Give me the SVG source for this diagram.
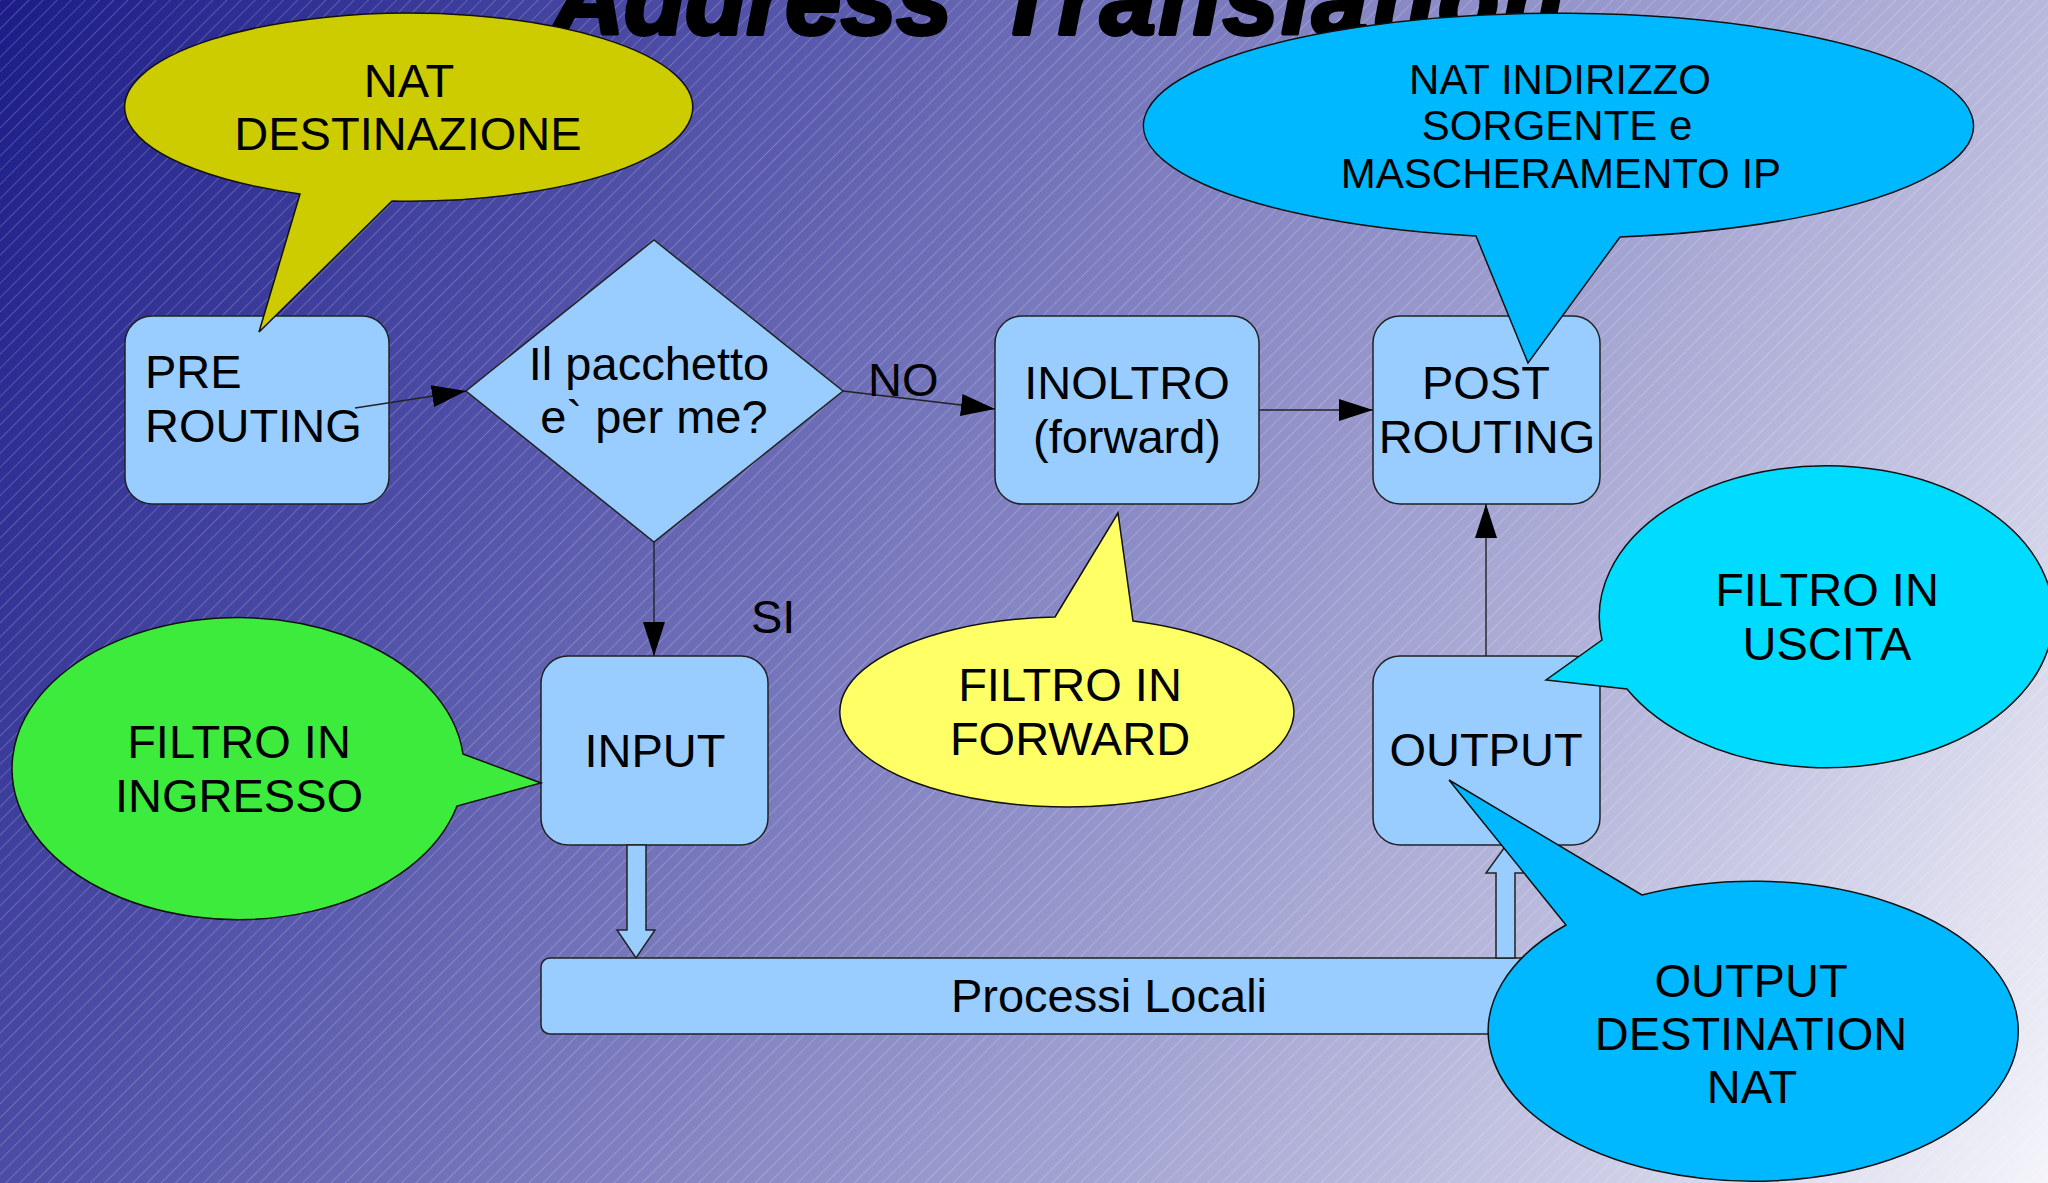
<svg xmlns="http://www.w3.org/2000/svg" width="2048" height="1183" viewBox="0 0 2048 1183">
  <defs>
    <linearGradient id="bgGrad" gradientUnits="userSpaceOnUse" x1="0" y1="0" x2="2048" y2="1183">
      <stop offset="0" stop-color="#1c1c88"/>
      <stop offset="0.25" stop-color="#4c4ca6"/>
      <stop offset="0.5" stop-color="#8686c4"/>
      <stop offset="0.75" stop-color="#b8b8dc"/>
      <stop offset="1" stop-color="#f4f4fa"/>
    </linearGradient>
    <pattern id="hatch" width="10" height="10" patternUnits="userSpaceOnUse" patternTransform="rotate(45)">
      <line x1="0.5" y1="0" x2="0.5" y2="10" stroke="#ffffff" stroke-opacity="0.2" stroke-width="1"/>
    </pattern>
    <marker id="arrow" markerUnits="userSpaceOnUse" markerWidth="34" markerHeight="22" refX="34" refY="11" orient="auto">
      <path d="M0,0 L34,11 L0,22 Z" fill="#000"/>
    </marker>
    <style>
      .box { fill: #99ccff; stroke: #222; stroke-width: 1.5; }
      .link { fill: none; stroke: #222; stroke-width: 1.4; marker-end: url(#arrow); }
      .block { fill: #99ccff; stroke: #222; stroke-width: 1.5; }
      .bubble { stroke: #111; stroke-width: 1.5; }
      text { font-family: "Liberation Sans", Arial, sans-serif; font-size: 47px; fill: #000; }
      .mid { text-anchor: middle; }
      .small { font-size: 42px; }
      .title { font-size: 100px; font-weight: bold; font-style: italic; stroke: #000; stroke-width: 4; stroke-linejoin: round; }
    </style>
  </defs>

  <!-- background -->
  <rect x="0" y="0" width="2048" height="1183" fill="url(#bgGrad)"/>
  <rect x="0" y="0" width="2048" height="1183" fill="url(#hatch)"/>

  <!-- title, running off the top edge -->
  <text class="title" y="34"><tspan x="552">Address</tspan><tspan x="996" letter-spacing="3">Translation</tspan></text>

  <!-- process nodes -->
  <g id="prerouting">
    <rect class="box" x="125" y="316" width="264" height="188" rx="27"/>
    <text x="145" y="388">PRE</text>
    <text x="145" y="442">ROUTING</text>
  </g>
  <g id="decision">
    <polygon class="box" points="654,240 843,391 654,542 466,391"/>
    <text x="649" y="380" class="mid">Il pacchetto</text>
    <text x="654" y="433" class="mid">e` per me?</text>
  </g>
  <g id="inoltro">
    <rect class="box" x="995" y="316" width="264" height="188" rx="27"/>
    <text x="1127" y="399" class="mid">INOLTRO</text>
    <text x="1127" y="453" class="mid">(forward)</text>
  </g>
  <g id="postrouting">
    <rect class="box" x="1373" y="316" width="227" height="188" rx="27"/>
    <text x="1486" y="399" class="mid">POST</text>
    <text x="1487" y="453" class="mid">ROUTING</text>
  </g>
  <g id="input">
    <rect class="box" x="541" y="656" width="227" height="189" rx="27"/>
    <text x="655" y="767" class="mid">INPUT</text>
  </g>
  <g id="output">
    <rect class="box" x="1373" y="656" width="227" height="189" rx="27"/>
    <text x="1486" y="766" class="mid">OUTPUT</text>
  </g>
  <g id="processi-locali">
    <rect class="box" x="541" y="958" width="1136" height="76" rx="9"/>
    <text x="1109" y="1012" class="mid">Processi Locali</text>
  </g>

  <!-- connectors -->
  <g id="connectors">
    <line class="link" x1="355" y1="408" x2="466" y2="391"/>
    <line class="link" x1="843" y1="391" x2="995" y2="409"/>
    <line class="link" x1="1259" y1="410" x2="1373" y2="410"/>
    <line class="link" x1="654" y1="542" x2="654" y2="656"/>
    <line class="link" x1="1486" y1="656" x2="1486" y2="504"/>
    <polygon class="block" points="627,845 646,845 646,930 655,930 636,958 617,930 627,930"/>
    <polygon class="block" points="1496,958 1496,873 1486,873 1505.5,846 1525,873 1515,873 1515,958"/>
    <text x="868" y="396">NO</text>
    <text x="751" y="633">SI</text>
  </g>

  <!-- callouts -->
  <g id="nat-destinazione">
    <path class="bubble" fill="#cccc00" d="M300,194 L259,332 L392,201 A284 94 0 1 0 300,194 Z"/>
    <text x="409" y="97" class="mid">NAT</text>
    <text x="408" y="150" class="mid">DESTINAZIONE</text>
  </g>
  <g id="nat-sorgente">
    <path class="bubble" fill="#00b8ff" d="M1476,236 L1528,363 L1620,237 A415 112.5 0 1 0 1476,236 Z"/>
    <text x="1560" y="94" class="mid small">NAT INDIRIZZO</text>
    <text x="1557" y="140" class="mid small">SORGENTE e</text>
    <text x="1561" y="188" class="mid small">MASCHERAMENTO IP</text>
  </g>
  <g id="filtro-forward">
    <path class="bubble" fill="#ffff66" d="M1055,617 L1118,513 L1133,621 A227 95 0 1 1 1055,617 Z"/>
    <text x="1070" y="701" class="mid">FILTRO IN</text>
    <text x="1070" y="755" class="mid">FORWARD</text>
  </g>
  <g id="filtro-ingresso">
    <path class="bubble" fill="#3ceb3c" d="M463,754 L541,783 L457,806 A226 151 0 1 1 463,754 Z"/>
    <text x="239" y="758" class="mid">FILTRO IN</text>
    <text x="239" y="812" class="mid">INGRESSO</text>
  </g>
  <g id="filtro-uscita">
    <path class="bubble" fill="#00dcff" d="M1602,640 L1546,680 L1627,689 A227 151 0 1 0 1602,640 Z"/>
    <text x="1827" y="606" class="mid">FILTRO IN</text>
    <text x="1827" y="660" class="mid">USCITA</text>
  </g>
  <g id="output-dnat">
    <path class="bubble" fill="#00b8ff" d="M1642,895 L1449,780 L1566,925 A265 150 0 1 0 1642,895 Z"/>
    <text x="1751" y="997" class="mid">OUTPUT</text>
    <text x="1751" y="1050" class="mid">DESTINATION</text>
    <text x="1752" y="1103" class="mid">NAT</text>
  </g>
</svg>
